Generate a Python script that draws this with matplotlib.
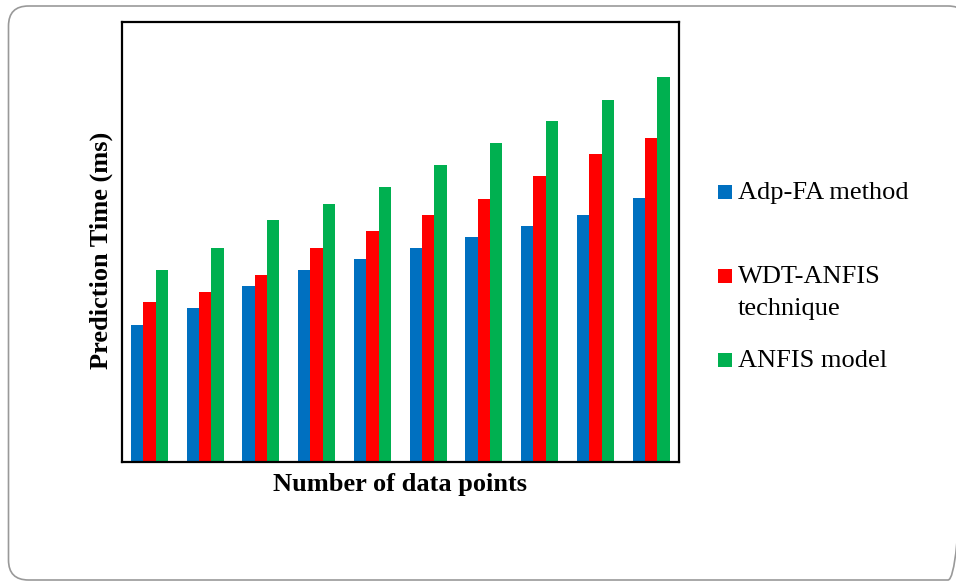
import numpy as np
import matplotlib
matplotlib.use('Agg')
import matplotlib.pyplot as plt
from matplotlib.patches import FancyBboxPatch, Rectangle

# values (no tick labels in the original, arbitrary units)
groups = np.arange(10)
adp_fa = [137, 154, 176, 192, 203, 214, 225, 236, 247, 264]
wdt_anfis = [160, 170, 187, 214, 231, 247, 263, 286, 308, 324]
anfis = [192, 214, 242, 258, 275, 297, 319, 341, 362, 385]

labels = ['Adp-FA method', 'WDT-ANFIS\ntechnique', 'ANFIS model']
colors = ['#0070C0', '#FF0000', '#00B050']

plt.rcParams['font.family'] = ['Liberation Serif', 'DejaVu Serif']

W, H = 956, 581
fig = plt.figure(figsize=(W / 100, H / 100), dpi=100)

# background axes in pixel units, for the rounded frame and the legend
bg = fig.add_axes([0, 0, 1, 1])
bg.set_xlim(0, W)
bg.set_ylim(H, 0)
bg.axis('off')
bg.add_patch(FancyBboxPatch((8.5, 6), 968 - 8.5, 580 - 6,
                            boxstyle='round,pad=0,rounding_size=20',
                            facecolor='none', edgecolor='#999999', linewidth=1.2))

ax = fig.add_axes([121.5 / W, 1 - 462 / H, 557.5 / W, 440 / H])
w = 0.22
for i, (vals, c) in enumerate(zip([adp_fa, wdt_anfis, anfis], colors)):
    ax.bar(groups + (i - 1) * w, vals, width=w, color=c, linewidth=0)

ax.set_xlim(-0.5, 9.5)
ax.set_ylim(0, 440)
ax.set_xticks([])
ax.set_yticks([])
for s in ax.spines.values():
    s.set_linewidth(1.6)
    s.set_color('black')

fig.text(400 / W, 1 - 485 / H, 'Number of data points', ha='center', va='center',
         fontsize=19, fontweight='bold')
fig.text(101 / W, 1 - 250 / H, 'Prediction Time (ms)', ha='center', va='center',
         rotation=90, fontsize=19, fontweight='bold')

# legend drawn by hand to match the spacing of the original
leg_y = [192, 276, 360]
for y, lab, c in zip(leg_y, labels, colors):
    bg.add_patch(Rectangle((718, y - 7), 14, 14, facecolor=c, edgecolor='none'))
    for k, line in enumerate(lab.split('\n')):
        bg.text(738, y + 1 + 32 * k, line, ha='left', va='center', fontsize=19)

fig.savefig('out.png', dpi=100)
